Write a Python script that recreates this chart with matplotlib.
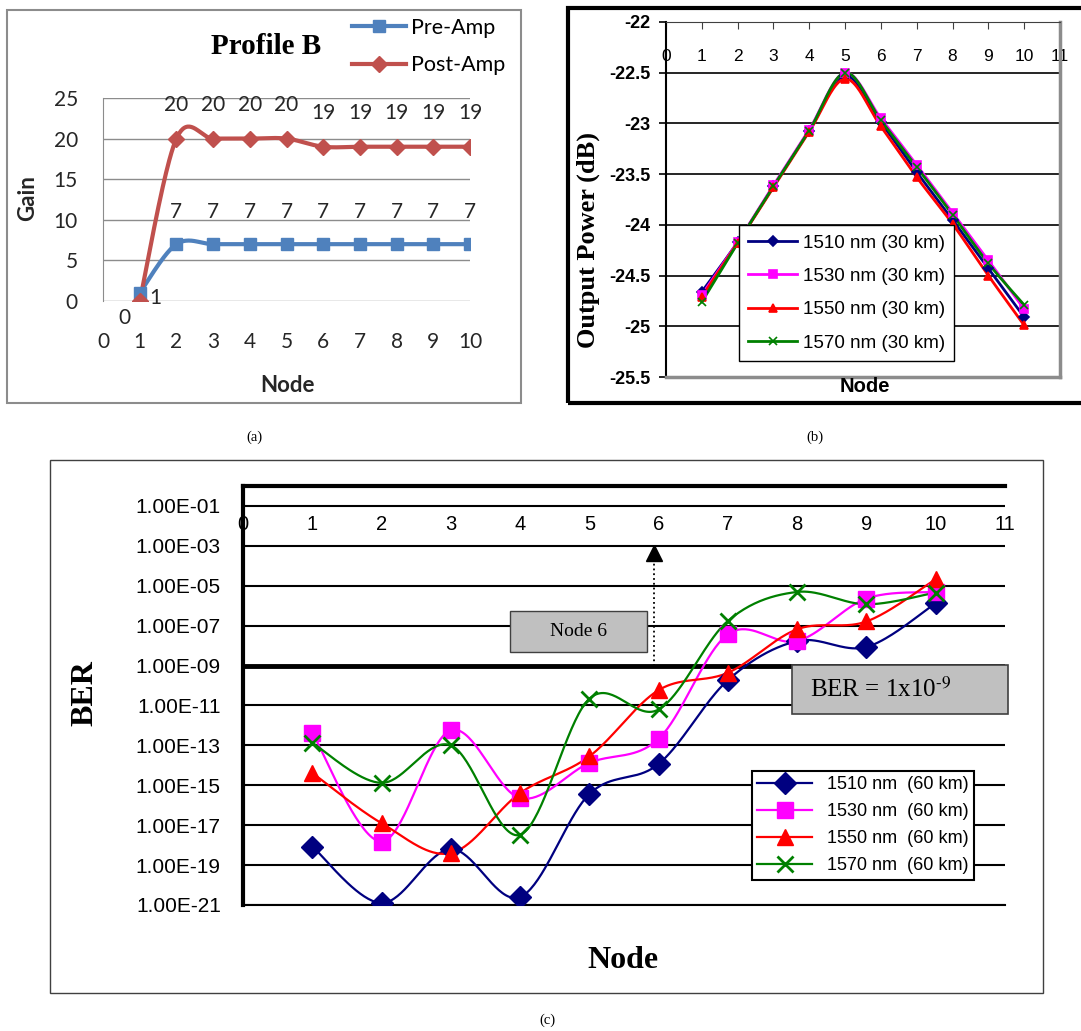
import numpy as np
import matplotlib
matplotlib.use('Agg')
import matplotlib.pyplot as plt
from matplotlib.lines import Line2D
from matplotlib.patches import Rectangle

plt.rcParams['mathtext.fontset'] = 'stix'

W, H = 1081, 1031

# (a) amplifier gain, profile B
nodes_a = [1, 2, 3, 4, 5, 6, 7, 8, 9, 10]
pre_amp = [1, 7, 7, 7, 7, 7, 7, 7, 7, 7]
post_amp = [0, 20, 20, 20, 20, 19, 19, 19, 19, 19]

# (b) output power, 30 km
nodes_b = [1, 2, 3, 4, 5, 6, 7, 8, 9, 10]
power_30km = {
    '1510 nm (30 km)': [-24.66, -24.17, -23.62, -23.07, -22.53, -22.99, -23.48, -23.95, -24.43, -24.91],
    '1530 nm (30 km)': [-24.69, -24.17, -23.61, -23.06, -22.50, -22.95, -23.41, -23.88, -24.35, -24.83],
    '1550 nm (30 km)': [-24.71, -24.18, -23.63, -23.08, -22.56, -23.03, -23.53, -23.99, -24.50, -24.99],
    '1570 nm (30 km)': [-24.76, -24.18, -23.62, -23.07, -22.50, -22.97, -23.43, -23.90, -24.38, -24.79],
}

# (c) BER at 60 km, stored as log10 values
nodes_c = [1, 2, 3, 4, 5, 6, 7, 8, 9, 10]
log_ber_60km = {
    '1510 nm  (60 km)': [-18.07, -20.90, -18.20, -20.60, -15.44, -13.93, -9.73, -7.77, -8.07, -5.87],
    '1530 nm  (60 km)': [-12.37, -17.82, -12.24, -15.64, -13.88, -12.67, -7.43, -7.77, -5.64, -5.31],
    '1550 nm  (60 km)': [-14.38, -16.90, -18.40, -15.39, -13.55, -10.23, -9.36, -7.18, -6.79, -4.67],
    '1570 nm  (60 km)': [-12.87, -14.88, -13.00, -17.48, -10.66, -11.20, -6.76, -5.31, -5.93, -5.34],
}

colors = ['#000080', '#FF00FF', '#FF0000', '#008000']
markers = ['D', 's', '^', 'x']


def smooth(xs, ys, n=40):
    # Catmull-Rom curve through the points, ends repeated
    x = np.r_[xs[0], xs, xs[-1]].astype(float)
    y = np.r_[ys[0], ys, ys[-1]].astype(float)
    t = np.linspace(0, 1, n)
    h00 = 2 * t**3 - 3 * t**2 + 1
    h10 = t**3 - 2 * t**2 + t
    h01 = -2 * t**3 + 3 * t**2
    h11 = t**3 - t**2
    ox, oy = [], []
    for i in range(1, len(x) - 2):
        for src, out in ((x, ox), (y, oy)):
            p0, p1, p2, p3 = src[i - 1:i + 3]
            out.append(h00 * p1 + h10 * (p2 - p0) / 2 + h01 * p2 + h11 * (p3 - p1) / 2)
    return np.concatenate(ox), np.concatenate(oy)


def px_box(x0, y0, x1, y1):
    # pixel box -> figure fraction rect
    return [x0 / W, 1 - y1 / H, (x1 - x0) / W, (y1 - y0) / H]


fig = plt.figure(figsize=(W / 100, H / 100), dpi=100)

# ---------- (a) ----------
sans_a = 'Lato'
ax_a = fig.add_axes(px_box(103, 98, 470, 301))
c_pre, c_post = '#4F81BD', '#C0504D'
sx, sy = smooth(nodes_a, pre_amp)
ax_a.plot(sx, sy, color=c_pre, lw=3, zorder=3)
ax_a.plot(nodes_a, pre_amp, ls='none', marker='s', ms=8, color=c_pre, zorder=4)
sx, sy = smooth(nodes_a, post_amp)
ax_a.plot(sx, sy, color=c_post, lw=3, zorder=3)
ax_a.plot(nodes_a, post_amp, ls='none', marker='D', ms=8, color=c_post, zorder=4)

for i, (n, v) in enumerate(zip(nodes_a, pre_amp)):
    off = (11, -4) if i == 0 else (0, 23)
    ax_a.annotate(str(v), (n, v), xytext=off, textcoords='offset points',
                  ha='center', va='center', fontsize=15, family=sans_a, color='#262626')
for i, (n, v) in enumerate(zip(nodes_a, post_amp)):
    off = (-11, -12) if i == 0 else (0, 24)
    ax_a.annotate(str(v), (n, v), xytext=off, textcoords='offset points',
                  ha='center', va='center', fontsize=15, family=sans_a, color='#262626')

ax_a.set_xlim(0, 10)
ax_a.set_ylim(0, 25)
ax_a.set_xticks(range(0, 11))
ax_a.set_yticks(range(0, 26, 5))
ax_a.grid(axis='y', color='#8C8C8C', lw=1)
ax_a.set_axisbelow(True)
for s in ['top', 'right', 'bottom']:
    ax_a.spines[s].set_visible(False)
ax_a.spines['left'].set_color('#8C8C8C')
ax_a.tick_params(axis='both', length=0, labelsize=15, labelcolor='#262626')
ax_a.tick_params(axis='x', pad=22)
ax_a.tick_params(axis='y', pad=18)
for lab in ax_a.get_xticklabels() + ax_a.get_yticklabels():
    lab.set_family(sans_a)
fig.text(287 / W, 1 - 385 / H, 'Node', ha='center', va='center', fontsize=16,
         fontweight='bold', family=sans_a, color='#262626')
fig.text(28 / W, 1 - 198 / H, 'Gain', ha='center', va='center', rotation=90,
         fontsize=16, fontweight='bold', family=sans_a, color='#262626')
fig.text(266 / W, 1 - 47 / H, 'Profile B', ha='center', va='center', fontsize=21,
         fontweight='bold', family='Liberation Serif')
h_a = [Line2D([], [], color=c_pre, lw=3, marker='s', ms=8),
       Line2D([], [], color=c_post, lw=3, marker='D', ms=8)]
fig.legend(h_a, ['Pre-Amp', 'Post-Amp'], loc='upper left',
           bbox_to_anchor=(352 / W, 1 - 18 / H), frameon=False,
           prop={'family': sans_a, 'size': 15.5}, handlelength=2.5,
           handletextpad=0.25, labelspacing=0.8, borderpad=0, borderaxespad=0)
fig.add_artist(Rectangle((7 / W, 1 - 403 / H), 514 / W, 393 / H, transform=fig.transFigure,
                         fill=False, ec='#8C8C8C', lw=1.5))

# ---------- (b) ----------
ax_b = fig.add_axes(px_box(666, 22, 1060, 377))
for (lab, vals), col, mk in zip(power_30km.items(), colors, markers):
    sx, sy = smooth(nodes_b, vals)
    ax_b.plot(sx, sy, color=col, lw=2, zorder=3)
    ax_b.plot(nodes_b, vals, ls='none', marker=mk, ms=6 if mk != 'D' else 5,
              color=col, mew=1.2, zorder=4)
ax_b.set_xlim(0, 11)
ax_b.set_ylim(-25.5, -22)
ax_b.set_yticks(np.arange(-25.5, -21.9, 0.5))
ax_b.set_yticklabels(['-25.5', '-25', '-24.5', '-24', '-23.5', '-23', '-22.5', '-22'])
ax_b.set_xticks(range(0, 12))
ax_b.grid(axis='y', color='black', lw=1.2)
ax_b.set_axisbelow(True)
ax_b.tick_params(axis='x', top=True, bottom=False, direction='in', length=5,
                 labeltop=False, labelbottom=False, color='#404040')
ax_b.tick_params(axis='y', direction='out', length=5, width=1.2, pad=6, labelsize=13)
for lab in ax_b.get_yticklabels():
    lab.set_family('Liberation Sans')
    lab.set_fontweight('bold')
ax_b.spines['left'].set_linewidth(1.5)
ax_b.spines['top'].set_color('#404040')
for s in ['right', 'bottom']:
    ax_b.spines[s].set_color('#8C8C8C')
    ax_b.spines[s].set_linewidth(2.5)
sec_b = ax_b.secondary_xaxis((-22.415 + 25.5) / 3.5)
sec_b.set_xticks(range(0, 12))
sec_b.tick_params(length=0, pad=0, labelsize=12.5)
for s in sec_b.spines.values():
    s.set_visible(False)
for lab in sec_b.get_xticklabels():
    lab.set_family('Liberation Sans')
fig.text(865 / W, 1 - 387 / H, 'Node', ha='center', va='center', fontsize=14.5,
         fontweight='bold', family='Liberation Sans')
fig.text(588 / W, 1 - 240 / H, 'Output Power (dB)', ha='center', va='center',
         rotation=90, fontsize=19, fontweight='bold', family='Liberation Serif')
h_b = [Line2D([], [], color=c, lw=2, marker=m, ms=6 if m != 'D' else 5, mew=1.2)
       for c, m in zip(colors, markers)]
leg_b = ax_b.legend(h_b, list(power_30km.keys()), loc='upper left',
                    bbox_to_anchor=(739 / W, 1 - 225 / H),
                    bbox_transform=fig.transFigure, fancybox=False, framealpha=1,
                    edgecolor='black', prop={'family': 'Liberation Sans', 'size': 13.5},
                    handlelength=2.6, handletextpad=0.3, labelspacing=0.87,
                    borderpad=0.5, borderaxespad=0)
leg_b.get_frame().set_linewidth(1)
fig.add_artist(Rectangle((568 / W, 1 - 403 / H), 600 / W, 395 / H, transform=fig.transFigure,
                         fill=False, ec='black', lw=3))

# ---------- (c) ----------
ax_c = fig.add_axes(px_box(243, 486, 1005, 905))
ax_c.set_yscale('log')
for (lab, vals), col, mk in zip(log_ber_60km.items(), colors, markers):
    sx, sy = smooth(nodes_c, vals)
    ax_c.plot(sx, 10.0 ** sy, color=col, lw=1.6, zorder=3)
    ax_c.plot(nodes_c, 10.0 ** np.array(vals), ls='none', marker=mk,
              ms=11, mew=2 if mk == 'x' else 1, color=col, zorder=4)
ax_c.set_xlim(0, 11)
ax_c.set_ylim(1e-21, 1)
exps = list(range(-21, 0, 2))
ax_c.set_yticks([10.0 ** e for e in exps])
ax_c.set_yticklabels(['1.00E-%02d' % -e for e in exps])
ax_c.minorticks_off()
ax_c.set_xticks([])
ax_c.grid(axis='y', which='major', color='black', lw=1.5)
ax_c.set_axisbelow(True)
ax_c.axhline(1e-9, color='black', lw=3.5, zorder=2)
ax_c.tick_params(axis='y', length=0, pad=16, labelsize=15)
for lab in ax_c.get_yticklabels():
    lab.set_family('Liberation Sans')
ax_c.spines['right'].set_visible(False)
ax_c.spines['left'].set_linewidth(3)
ax_c.spines['top'].set_linewidth(3)
ax_c.spines['bottom'].set_linewidth(1.5)
sec_c = ax_c.secondary_xaxis((21 - 2.41) / 21)
sec_c.set_xticks(range(0, 12))
sec_c.tick_params(length=0, pad=0, labelsize=14.5)
for s in sec_c.spines.values():
    s.set_visible(False)
for lab in sec_c.get_xticklabels():
    lab.set_family('Liberation Sans')

# Node 6 marker box and arrow
ax_c.add_patch(Rectangle((3.85, 10 ** -8.32), 5.83 - 3.85, 10 ** -6.27 - 10 ** -8.32,
                         fc='#C0C0C0', ec='#404040', lw=1, zorder=5))
ax_c.text(4.84, 10 ** -7.3, 'Node 6', ha='center', va='center', fontsize=14,
          family='Liberation Serif', zorder=6)
ax_c.plot([5.93, 5.93], [1e-9, 10 ** -3.5], color='black', ls=':', lw=1.3, zorder=5)
ax_c.plot([5.93], [10 ** -3.35], marker='^', ms=11, color='black', ls='none', zorder=5)

# BER threshold box
ax_c.add_patch(Rectangle((7.93, 10 ** -11.43), 11.04 - 7.93, 10 ** -8.97 - 10 ** -11.43,
                         fc='#C0C0C0', ec='#404040', lw=1.2, zorder=5, clip_on=False))
ax_c.text(8.19, 10 ** -10.2, r'BER = 1x10$^{\text{-9}}$', ha='left', va='center',
          fontsize=18, family='Liberation Serif', zorder=6)

h_c = [Line2D([], [], color=c, lw=1.6, marker=m, ms=11, mew=2 if m == 'x' else 1)
       for c, m in zip(colors, markers)]
leg_c = ax_c.legend(h_c, list(log_ber_60km.keys()), loc='upper left',
                    bbox_to_anchor=(752 / W, 1 - 771 / H), bbox_transform=fig.transFigure,
                    fancybox=False, framealpha=1, edgecolor='black',
                    prop={'family': 'Liberation Sans', 'size': 13},
                    handlelength=3.0, handletextpad=0.85, labelspacing=0.55,
                    borderpad=0.3, borderaxespad=0)
leg_c.get_frame().set_linewidth(1.5)
leg_c.set_zorder(7)

fig.text(85 / W, 1 - 693 / H, 'BER', ha='center', va='center', rotation=90,
         fontsize=23, fontweight='bold', family='Liberation Serif')
fig.text(623 / W, 1 - 960 / H, 'Node', ha='center', va='center', fontsize=23,
         fontweight='bold', family='Liberation Serif')
fig.add_artist(Rectangle((50 / W, 1 - 993 / H), 993 / W, 533 / H, transform=fig.transFigure,
                         fill=False, ec='#404040', lw=1))

# captions
for x, y, s in [(254, 437, '(a)'), (815, 437, '(b)'), (547, 1020, '(c)')]:
    fig.text(x / W, 1 - y / H, s, ha='center', va='center', fontsize=10.5,
             family='Liberation Serif')

fig.savefig('out.png', dpi=100)
